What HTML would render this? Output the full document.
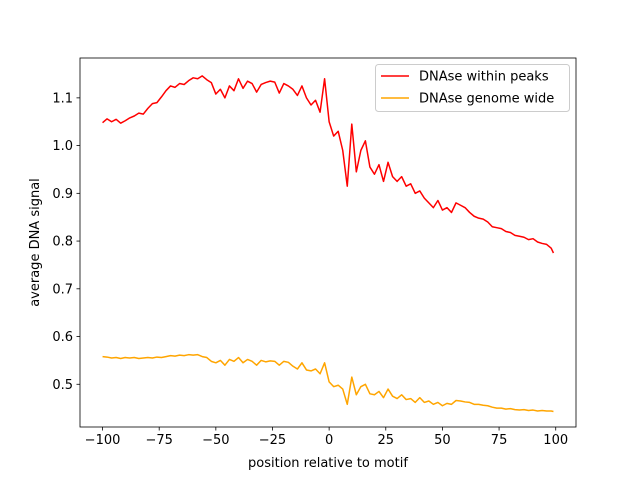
<!DOCTYPE html>
<html><head><meta charset="utf-8"><style>
body{margin:0;background:#fff;}
svg text{font-family:"DejaVu Sans","Liberation Sans",sans-serif;font-size:13px;fill:#000;}
</style></head><body>
<svg id="chart" width="640" height="480" xmlns="http://www.w3.org/2000/svg">
<rect width="640" height="480" fill="#fff"/>
<g id="plot"></g>
</svg>
<script>
const xStart = -100, xStep = 2;
const peaksValues = [1.048,1.056,1.050,1.055,1.047,1.052,1.058,1.062,1.068,1.066,1.078,1.088,1.090,1.102,1.115,1.125,1.122,1.130,1.128,1.136,
1.142,1.140,1.146,1.138,1.132,1.108,1.118,1.100,1.125,1.115,1.140,1.120,1.135,1.130,1.112,1.128,1.132,1.135,1.133,1.110,
1.130,1.125,1.118,1.105,1.125,1.100,1.085,1.095,1.070,1.140,1.050,1.020,1.030,0.990,0.915,1.045,0.945,0.990,1.010,0.955,
0.940,0.960,0.925,0.965,0.935,0.925,0.935,0.915,0.920,0.900,0.905,0.890,0.880,0.870,0.885,0.865,0.870,0.860,0.880,0.875,
0.870,0.860,0.852,0.848,0.846,0.840,0.830,0.828,0.826,0.820,0.818,0.812,0.810,0.808,0.803,0.805,0.798,0.795,0.793,0.785,0.775];
const genomeValues = [0.558,0.557,0.555,0.556,0.554,0.556,0.555,0.556,0.554,0.555,0.556,0.555,0.557,0.556,0.558,0.560,0.559,0.561,0.560,0.562,
0.561,0.562,0.558,0.556,0.548,0.545,0.550,0.540,0.552,0.548,0.556,0.545,0.552,0.548,0.540,0.550,0.547,0.549,0.548,0.540,
0.548,0.546,0.538,0.532,0.545,0.530,0.528,0.532,0.522,0.545,0.505,0.495,0.498,0.490,0.458,0.515,0.478,0.495,0.500,0.480,
0.478,0.485,0.472,0.490,0.475,0.470,0.478,0.468,0.470,0.462,0.472,0.462,0.465,0.458,0.462,0.455,0.460,0.458,0.466,0.465,
0.463,0.462,0.458,0.458,0.456,0.455,0.452,0.450,0.450,0.448,0.449,0.447,0.446,0.447,0.445,0.446,0.444,0.445,0.444,0.444,0.443];
const xTicks = [-100,-75,-50,-25,0,25,50,75,100];
const yTicks = [0.5,0.6,0.7,0.8,0.9,1.0,1.1];
const seriesNames = ["DNAse within peaks","DNAse genome wide"];

const L=80,R=576,T=58,B=427;
const xMin=-109.95,xMax=108.95,yMin=0.4105,yMax=1.1835;
const xs=v=>L+(v-xMin)/(xMax-xMin)*(R-L);
const ys=v=>B-(v-yMin)/(yMax-yMin)*(B-T);
const NS="http://www.w3.org/2000/svg";
const g=document.getElementById('plot');
function mk(t,a,p){const e=document.createElementNS(NS,t);for(const k in a)e.setAttribute(k,a[k]);(p||g).appendChild(e);return e;}
function xAt(i,n){return i===n-1?99:xStart+i*xStep;}
function line(vals,color,name){
  const pts=vals.map((v,i)=>xs(xAt(i,vals.length)).toFixed(2)+','+ys(v).toFixed(2)).join(' ');
  const p=mk('polyline',{points:pts,fill:'none',stroke:color,'stroke-width':1.5,'stroke-linejoin':'round'});
  
  
}
line(peaksValues,'#ff0000','series-dnase-within-peaks');
line(genomeValues,'#ffa500','series-dnase-genome-wide');
const frame=mk('rect',{x:L,y:T,width:R-L,height:B-T,fill:'none',stroke:'#000','stroke-width':0.8});


xTicks.forEach(v=>{
  const x=xs(v);
  mk('line',{x1:x,x2:x,y1:B,y2:B+3.5,stroke:'#000','stroke-width':0.8});
  const t=mk('text',{x:x,y:B+17,'text-anchor':'middle'});t.textContent=(v<0?'\u2212'+(-v):v);
  
  
});
yTicks.forEach(v=>{
  const y=ys(v);
  mk('line',{x1:L-3.5,x2:L,y1:y,y2:y,stroke:'#000','stroke-width':0.8});
  const t=mk('text',{x:L-7,y:y+4.5,'text-anchor':'end'});t.textContent=v.toFixed(1);
  
  
});
const xl=mk('text',{x:(L+R)/2,y:467,'text-anchor':'middle'});xl.textContent='position relative to motif';


const yl=mk('text',{x:0,y:0,'text-anchor':'middle',transform:'translate(39,'+((T+B)/2)+') rotate(-90)'});yl.textContent='average DNA signal';


const lg=mk('g',{});


mk('rect',{x:375.5,y:64.5,width:194,height:47,rx:3,fill:'#fff','fill-opacity':0.8,stroke:'#ccc'},lg);
const cols=['#ff0000','#ffa500'];
seriesNames.forEach((n,i)=>{
  const y=76+i*22;
  const e=mk('g',{},lg);
  
  
  mk('line',{x1:381,x2:409,y1:y,y2:y,stroke:cols[i],'stroke-width':1.5},e);
  const t=mk('text',{x:419,y:y+4.5},e);t.textContent=n;
});
</script>
</body></html>
